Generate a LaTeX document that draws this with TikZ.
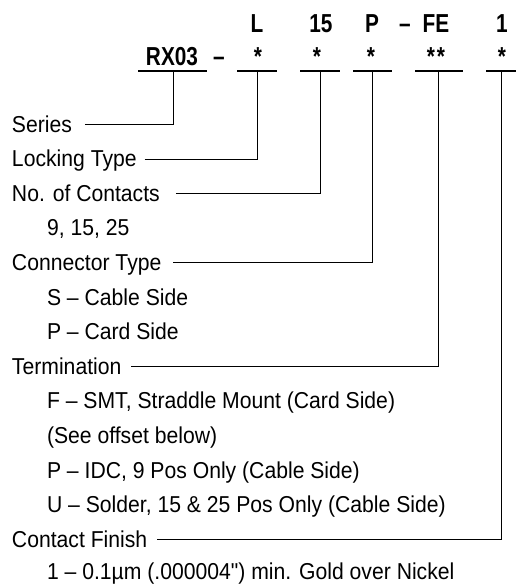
\documentclass[tikz,border=0pt]{standalone}
\usepackage{fontspec}
\setmainfont{Liberation Sans}[FakeStretch=0.92]
\newfontfamily\qfont{Liberation Sans}[FakeStretch=0.92]
\newfontfamily\hdfont{Liberation Sans}[FakeStretch=0.8,Ligatures=TeX]
\begin{document}
\begin{tikzpicture}[x=1pt,y=-1pt,
  txt/.style={anchor=base west,inner sep=0pt,outer sep=0pt,font=\fontsize{23}{25}\selectfont},
  hd/.style={anchor=base,inner sep=0pt,outer sep=0pt,font=\hdfont\bfseries\fontsize{26}{28}\selectfont},
  lead/.style={line width=0.9pt},
  uline/.style={line width=2pt}]
\useasboundingbox (0,0) rectangle (516,584);

% header row
\node[hd] (h1) at (257,32) {L};
\node[hd] (h2) at (321,32) {15};
\node[hd] (h3) at (372,32) {P};
\node[hd] (h4) at (405,32) {\textendash};
\node[hd] (h5) at (436,32) {FE};
\node[hd] (h6) at (502,32) {1};
% code row
\node[hd] (rx) at (172,65) {RX03};
\node[hd] (d1) at (219,65) {\textendash};
\node[hd] (s1) at (258,65) {*};
\node[hd] (s2) at (317,65) {*};
\node[hd] (s3) at (371,65) {*};
\node[hd] (s4) at (436,65) {*\kern2pt*};
\node[hd] (s5) at (502,65) {*};

% underlines
\coordinate (uR) at (173,71);
\coordinate (uL) at (257,71);
\coordinate (uN) at (320,71);
\coordinate (uP) at (372,71);
\coordinate (uF) at (438,71);
\coordinate (uC) at (501,71);
\draw[uline] (138,71) -- (207,71);
\draw[uline] (237,71) -- (277,71);
\draw[uline] (300,71) -- (340,71);
\draw[uline] (353,71) -- (392,71);
\draw[uline] (415,71) -- (463,71);
\draw[uline] (486,71) -- (516,71);

% labels
\node[txt] (ser) at (12,132) {Series};
\node[txt] (lck) at (12,166.6) {Locking Type};
\node[txt] (noc) at (12,201.2) {No. of Contacts};
\node[txt] (noc1) at (47,235.8) {9, 15, 25};
\node[txt] (ct) at (12,270.4) {Connector Type};
\node[txt] (ct1) at (47,305) {S -- Cable Side};
\node[txt] (ct2) at (47,339.6) {P -- Card Side};
\node[txt] (ter) at (12,374.2) {Termination};
\node[txt] (ter1) at (47,408.8) {F -- SMT, Straddle Mount (Card Side)};
\node[txt] (ter2) at (47,443.4) {(See offset below)};
\node[txt] (ter3) at (47,478) {P -- IDC, 9 Pos Only (Cable Side)};
\node[txt] (ter4) at (47,512.6) {U -- Solder, 15 \& 25 Pos Only (Cable Side)};
\node[txt] (cf) at (12,547.2) {Contact Finish};
\node[txt] (cf1) at (47,579.5) {1 -- 0.1µm (.000004{\qfont"}) min. Gold over Nickel};

% leaders
\draw[lead] ([xshift=13pt,yshift=7.5pt]ser.base east) -| (uR);
\draw[lead] ([xshift=8pt,yshift=7.5pt]lck.base east) -| (uL);
\draw[lead] ([xshift=16pt,yshift=7.5pt]noc.base east) -| (uN);
\draw[lead] ([xshift=12pt,yshift=7.5pt]ct.base east) -| (uP);
\draw[lead] ([xshift=10pt,yshift=7.5pt]ter.base east) -| (uF);
\draw[lead] ([xshift=10pt,yshift=7.5pt]cf.base east) -| (uC);
\end{tikzpicture}
\end{document}
